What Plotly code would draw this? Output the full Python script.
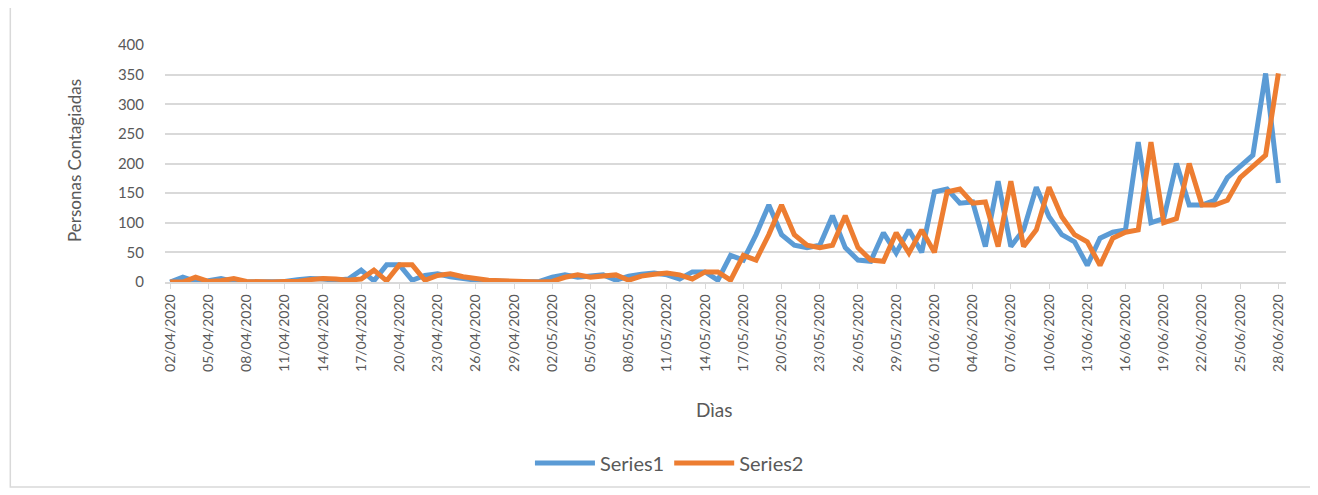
import datetime as dt
import plotly.graph_objects as go

start = dt.date(2020, 4, 2)
dates = [(start + dt.timedelta(days=k)).strftime("%d/%m/%Y") for k in range(88)]

series1 = [0, 8, 1, 2, 6, 1, 0, 0, 1, 1,
           4, 6, 5, 3, 5, 20, 2, 29, 29, 3,
           11, 14, 9, 5, 3, 2, 1, 0, 0, 1,
           8, 12, 8, 10, 12, 3, 10, 13, 15, 12,
           5, 17, 17, 3, 45, 37, 80, 130, 80, 62,
           58, 62, 112, 58, 37, 35, 83, 49, 88, 50,
           152, 157, 133, 135, 60, 170, 60, 88, 160, 110,
           80, 68, 28, 74, 84, 88, 236, 100, 107, 200,
           130, 130, 138, 176, 194, 214, 352, 167]

series2 = [0, 0, 8, 1, 2, 6, 1, 0, 0, 1,
           1, 4, 6, 5, 3, 5, 20, 2, 29, 29,
           3, 11, 14, 9, 5, 3, 2, 1, 0, 0,
           1, 8, 12, 8, 10, 12, 3, 10, 13, 15,
           12, 5, 17, 17, 3, 45, 37, 80, 130, 80,
           62, 58, 62, 112, 58, 37, 35, 83, 49, 88,
           50, 152, 157, 133, 135, 60, 170, 60, 88, 160,
           110, 80, 68, 28, 74, 84, 88, 236, 100, 107,
           200, 130, 130, 138, 176, 194, 214, 352]

tick_labels = dates[::3]
y_ticks = [0, 50, 100, 150, 200, 250, 300, 350, 400]

FONT = "Lato"
GREY = "#595959"

fig = go.Figure()
fig.add_trace(go.Scatter(x=dates, y=series1, mode="lines", name="Series1",
                         line=dict(color="#5B9BD5", width=5)))
fig.add_trace(go.Scatter(x=dates, y=series2, mode="lines", name="Series2",
                         line=dict(color="#ED7D31", width=5)))

fig.update_layout(
    width=1310, height=487,
    margin=dict(l=157, r=32, t=37, b=213),
    paper_bgcolor="white", plot_bgcolor="white",
    font=dict(family=FONT, color=GREY),
    showlegend=True,
    legend=dict(orientation="h", x=0.45, y=-0.764, xanchor="center", yanchor="middle",
                font=dict(size=20, color=GREY, family=FONT), itemwidth=60),
    xaxis=dict(type="category", range=[-0.4, 87.6], tickmode="array",
               tickvals=tick_labels, ticktext=tick_labels, tickangle=-90,
               tickfont=dict(size=14, color=GREY, family=FONT),
               showgrid=False, showline=True, linecolor="#d9d9d9", linewidth=1.5,
               ticks="outside", ticklen=5, tickcolor="#d9d9d9", zeroline=False,
               automargin=False),
    yaxis=dict(range=[0, 400], tickvals=y_ticks,
               tickfont=dict(size=15, color=GREY, family=FONT),
               showgrid=True, gridcolor="#d9d9d9", gridwidth=1.5,
               showline=False, zeroline=False, ticks="", ticklabelstandoff=20,
               automargin=False),
    annotations=[
        dict(text="Personas Contagiadas", x=-0.0803, y=0.515, xref="paper", yref="paper",
             textangle=-90, showarrow=False, font=dict(size=17, color=GREY, family=FONT),
             xanchor="center", yanchor="middle"),
        dict(text="Dìas", x=0.49, y=-0.54, xref="paper", yref="paper",
             showarrow=False, font=dict(size=19, color=GREY, family=FONT),
             xanchor="center", yanchor="middle"),
    ],
    shapes=[dict(type="rect", xref="paper", yref="paper",
                 x0=-0.138, x1=1.0241, y0=-0.865, y1=1.17,
                 line=dict(color="#d9d9d9", width=1.5))],
)

fig.write_html("out.html")
